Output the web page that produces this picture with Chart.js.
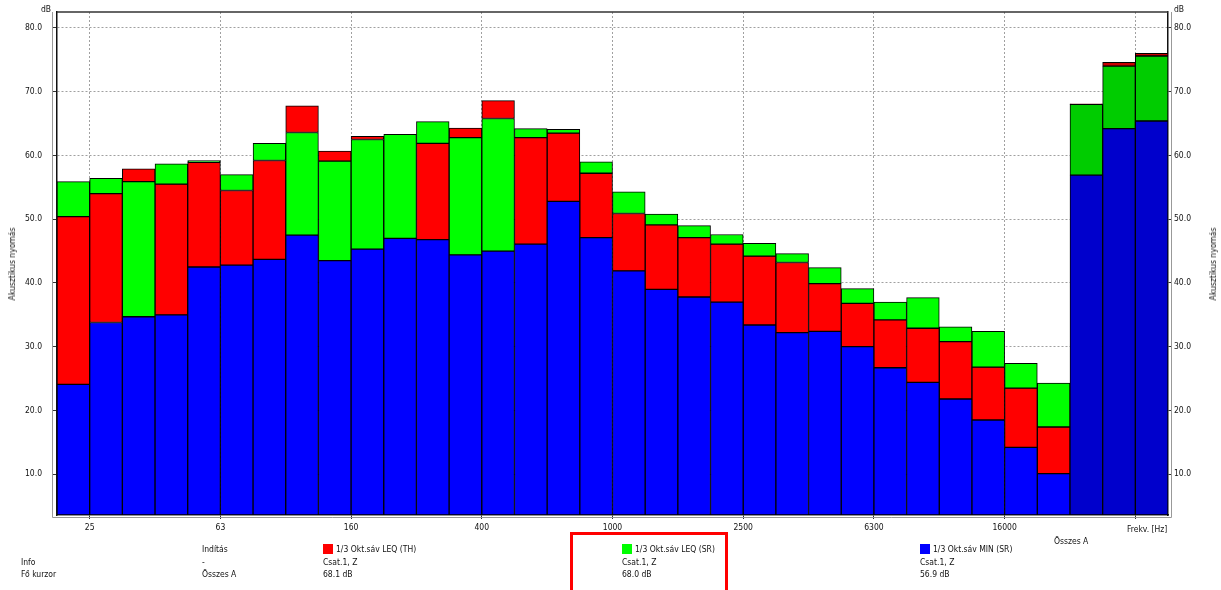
<!DOCTYPE html>
<html>
<head>
<meta charset="utf-8">
<script src="https://cdn.jsdelivr.net/npm/chart.js@4"></script>
<style>
  body { margin: 0; background: #fff; }
  #wrap { position: relative; width: 1221px; height: 590px; overflow: hidden;
    font-family: "DejaVu Sans Condensed", "DejaVu Sans", sans-serif; font-size: 8.5px; color: #111; }
  .t { position: absolute; white-space: nowrap; line-height: 10px; }
  .sw { position: absolute; width: 10px; height: 10px; }
  .ytitle { position: absolute; white-space: nowrap; transform: translate(-50%, -50%) rotate(-90deg); }
  #cursorBox { position: absolute; left: 570px; top: 532px; width: 158px; height: 80px;
    border: 3px solid #ff0000; box-sizing: border-box; }
</style>
</head>
<body>
<div id="wrap">
  <canvas id="myChart" width="1221" height="590"></canvas>

  <div class="t" style="left:41px;top:4px">dB</div>
  <div class="t" style="left:1174px;top:4px">dB</div>
  <div class="ytitle" style="left:12px;top:264px">Akusztikus nyomás</div>
  <div class="ytitle" style="left:1213px;top:264px">Akusztikus nyomás</div>
  <div class="t" style="left:1127px;top:524px">Frekv. [Hz]</div>
  <div class="t" style="left:1054px;top:536px">Összes A</div>

  <!-- info / legend table -->
  <div class="t" style="left:202px;top:544px">Indítás</div>
  <div class="t" style="left:21px;top:557px">Info</div>
  <div class="t" style="left:202px;top:557px">-</div>
  <div class="t" style="left:21px;top:569px">Fő kurzor</div>
  <div class="t" style="left:202px;top:569px">Összes A</div>

  <div class="sw" style="left:323px;top:544px;background:#ff0000"></div>
  <div class="t" style="left:336px;top:544px">1/3 Okt.sáv LEQ (TH)</div>
  <div class="t" style="left:323px;top:557px">Csat.1, Z</div>
  <div class="t" style="left:323px;top:569px">68.1 dB</div>

  <div id="cursorBox"></div>
  <div class="sw" style="left:622px;top:544px;background:#00ff00"></div>
  <div class="t" style="left:635px;top:544px">1/3 Okt.sáv LEQ (SR)</div>
  <div class="t" style="left:622px;top:557px">Csat.1, Z</div>
  <div class="t" style="left:622px;top:569px">68.0 dB</div>

  <div class="sw" style="left:920px;top:544px;background:#0000ff"></div>
  <div class="t" style="left:933px;top:544px">1/3 Okt.sáv MIN (SR)</div>
  <div class="t" style="left:920px;top:557px">Csat.1, Z</div>
  <div class="t" style="left:920px;top:569px">56.9 dB</div>
</div>

<script>
// 1/3 octave bands, then the three overall values
const bands = ["20", "25", "31.5", "40", "50", "63", "80", "100", "125", "160", "200", "250",
  "315", "400", "500", "630", "800", "1000", "1250", "1600", "2000", "2500", "3150", "4000",
  "5000", "6300", "8000", "10000", "12500", "16000", "20000", "Összes A", "Összes C", "Összes Z"];

// 1/3 Okt.sáv LEQ (TH)
const leqTH = [50.4, 54.0, 57.9, 55.5, 58.9, 54.5, 59.2, 67.8, 60.7, 63.0, 47.0, 61.9,
  64.3, 68.6, 62.8, 63.5, 57.2, 50.9, 49.1, 47.1, 46.1, 44.2, 43.2, 39.9,
  36.8, 34.2, 32.9, 30.8, 26.8, 23.5, 17.4, 68.1, 74.6, 76.0];

// 1/3 Okt.sáv LEQ (SR)
const leqSR = [55.9, 56.4, 55.9, 58.7, 59.2, 57.0, 61.9, 63.6, 59.1, 62.5, 63.3, 65.3,
  62.8, 65.8, 64.2, 64.1, 59.0, 54.3, 50.8, 49.0, 47.6, 46.2, 44.6, 42.4,
  39.1, 37.0, 37.7, 33.1, 32.4, 27.4, 24.3, 68.0, 74.0, 75.6];

// 1/3 Okt.sáv MIN (SR)
const minSR = [24.1, 33.8, 34.7, 35.0, 42.5, 42.8, 43.7, 47.5, 43.5, 45.3, 47.0, 46.8,
  44.4, 45.0, 46.1, 52.8, 47.1, 41.9, 39.0, 37.8, 37.0, 33.4, 32.2, 32.4,
  30.0, 26.7, 24.4, 21.8, 18.5, 14.2, 10.1, 56.9, 64.2, 65.4];

// tick labels under the x axis (placed at the left edge of their band)
const xTickBands = ["25", "63", "160", "400", "1000", "2500", "6300", "16000", "Összes Z"];
const xTickLabels = ["25", "63", "160", "400", "1000", "2500", "6300", "16000", ""];
const yTicks = [10, 20, 30, 40, 50, 60, 70, 80];

const Y_MIN = 3.6, Y_MAX = 82.5;
const nBands = 31; // first 31 entries are 1/3 octave bands

// bars overlap, smaller value in front: draw each series from the next lower value up
function segments(own, others) {
  return own.map((v, i) => {
    const below = others.map((a) => a[i]).filter((o) => o < v);
    const lo = below.length ? Math.max(...below) : Y_MIN;
    return { x: i + 0.5, y: [lo, v] };
  });
}
function colors(normal, total) {
  return bands.map((b, i) => (i < nBands ? normal : total));
}

Chart.defaults.font.family = '"DejaVu Sans Condensed", "DejaVu Sans", sans-serif';
Chart.defaults.font.size = 8.5;
Chart.defaults.color = "#111";

const common = { grouped: false, borderColor: "#000", borderWidth: 1, borderSkipped: false,
  categoryPercentage: 1, barPercentage: 1 };

// no extra padding from tick labels, the frame is placed by layout padding
function noPad(scale) {
  scale.paddingTop = 0;
  scale.paddingBottom = 0;
  scale.paddingLeft = 0;
  scale.paddingRight = 0;
}

const frameLines = {
  id: "frameLines",
  afterDraw(chart) {
    const { ctx, chartArea: a } = chart;
    ctx.save();
    ctx.strokeStyle = "#333";
    ctx.lineWidth = 1.5;
    ctx.beginPath();
    ctx.moveTo(a.left, a.top);
    ctx.lineTo(a.right, a.top);
    ctx.stroke();
    ctx.strokeStyle = "#999";
    ctx.lineWidth = 1;
    ctx.beginPath();
    ctx.moveTo(a.left - 4.5, a.top);
    ctx.lineTo(a.left - 4.5, a.bottom + 2.5);
    ctx.lineTo(a.right + 3.5, a.bottom + 2.5);
    ctx.lineTo(a.right + 3.5, a.top);
    ctx.stroke();
    ctx.restore();
  },
};

const yAxis = (position) => ({
  type: "linear",
  position: position,
  min: Y_MIN,
  max: Y_MAX,
  afterBuildTicks: (scale) => { scale.ticks = yTicks.map((v) => ({ value: v })); },
  afterFit: (scale) => { scale.width = position === "left" ? 57 : 53; noPad(scale); },
  ticks: { padding: position === "left" ? 11 : 2, callback: (v) => v.toFixed(1) },
  grid: { drawOnChartArea: position === "left", color: "#a0a0a0", tickLength: 4,
    tickColor: "#333", tickWidth: 1 },
  border: { display: true, color: "#111", width: 1.5, dash: [2, 2] },
});

new Chart(document.getElementById("myChart").getContext("2d"), {
  type: "bar",
  data: {
    datasets: [
      { ...common, label: "1/3 Okt.sáv MIN (SR)", data: segments(minSR, [leqTH, leqSR]),
        backgroundColor: colors("#0000ff", "#0000cc") },
      { ...common, label: "1/3 Okt.sáv LEQ (SR)", data: segments(leqSR, [minSR, leqTH]),
        backgroundColor: colors("#00ff00", "#00cc00") },
      { ...common, label: "1/3 Okt.sáv LEQ (TH)", data: segments(leqTH, [minSR, leqSR]),
        backgroundColor: colors("#ff0000", "#cc0000") },
    ],
  },
  options: {
    responsive: false,
    animation: false,
    layout: { padding: { top: 12, left: 0, right: 0, bottom: 0 } },
    plugins: { legend: { display: false }, tooltip: { enabled: false } },
    scales: {
      x: {
        type: "linear",
        min: 0,
        max: bands.length,
        offset: false,
        afterBuildTicks: (scale) => {
          scale.ticks = xTickBands.map((b) => ({ value: bands.indexOf(b) }));
        },
        afterFit: (scale) => { scale.height = 75; noPad(scale); },
        ticks: { padding: 4, maxRotation: 0, autoSkip: false,
          callback: (v, i) => xTickLabels[i] },
        grid: { offset: false, color: "#a0a0a0", tickLength: 4, tickColor: "#333", tickWidth: 1 },
        border: { display: true, color: "#222", width: 1.5, dash: [2, 2] },
      },
      y: yAxis("left"),
      y2: yAxis("right"),
    },
  },
  plugins: [frameLines],
});
</script>
</body>
</html>
